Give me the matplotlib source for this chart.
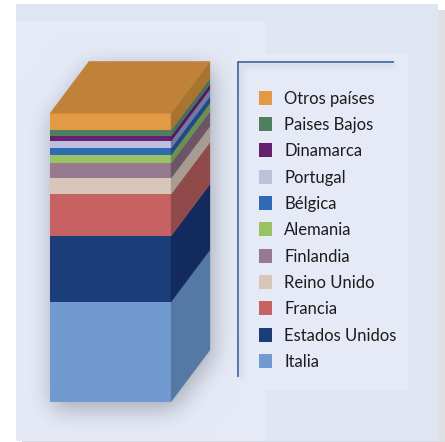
import numpy as np
import matplotlib
matplotlib.use("Agg")
import matplotlib.pyplot as plt
from matplotlib.patches import Rectangle, Polygon
from matplotlib.colors import to_rgb

countries = ["Italia", "Estados Unidos", "Francia", "Reino Unido", "Finlandia", "Alemania",
             "Bélgica", "Portugal", "Dinamarca", "Paises Bajos", "Otros países"]
shares = [34.6, 22.8, 14.5, 5.5, 5.2, 2.8, 2.4, 2.4, 1.7, 2.1, 5.9]
front_colors = ["#719bd0", "#1b3e78", "#c86262", "#d8c6b8", "#987a90", "#9ac264",
                "#2e6bb4", "#bfbfde", "#65206e", "#4f7f5f", "#e29a44"]
side_colors = ["#5579a5", "#122a5e", "#914a4a", "#a79c92", "#6d5568", "#6a9150",
               "#1f4a85", "#7279a0", "#4f1a5c", "#47705a", "#a87430"]
top_color = "#c08238"
line_color = "#2f5a94"

W, H = 445, 442


def blur(a, r, passes=3):
    k = np.ones(2 * r + 1) / (2 * r + 1)
    for _ in range(passes):
        a = np.apply_along_axis(lambda v: np.convolve(v, k, mode="same"), 0, a)
        a = np.apply_along_axis(lambda v: np.convolve(v, k, mode="same"), 1, a)
    return a


# background layers (pixel space)
bg = np.ones((H, W, 3))
bg[10:442, 438:] = to_rgb("#dfe0e3")
bg[441:, 22:] = to_rgb("#d8dbe3")
bg[4:441, 16:438] = to_rgb("#dfe5f2")
bg[21:441, 16:266] = to_rgb("#e6eaf6")
bg[54:390, 231:408] = to_rgb("#e6eaf6")

# soft shadows
yy, xx = np.mgrid[0:H, 0:W]
cube = ((xx >= 50) & (xx <= 210) & (yy >= 62) & (yy <= 402)
        & (yy >= 113 - (xx - 50) * 52 / 39) & (yy <= 402 - (xx - 171) * 52 / 39))
off = np.roll(np.roll(cube, 6, 0), 2, 1)
sh = blur(np.where(off, 1.0, 0.0), 11)
sh[:, 238:] = 0
lsh = np.zeros((H, W))
lsh[66:378, 239:243] = 1
lsh[63:67, 239:394] = 1
lsh = blur(lsh, 2)
dark = np.clip(0.55 * sh + 0.16 * lsh, 0, 1)[..., None]
mask = np.zeros((H, W, 1), bool)
mask[4:441, 16:438] = True
bg = np.where(mask, bg * (1 - dark) + np.array(to_rgb("#6f7480")) * dark, bg)

fig = plt.figure(figsize=(W / 100, H / 100), dpi=100, facecolor="white")
ax = fig.add_axes([0, 0, 1, 1])
ax.axis("off")
# one percent share = 2.89 px; baseline at pixel row 402
scale = 2.89
ax.set_xlim(0, W)
ax.set_ylim(-(H - 402) / scale, 402 / scale)
ax.imshow(bg, extent=(0, W, -(H - 402) / scale, 402 / scale), aspect="auto", zorder=0,
          interpolation="nearest")

bar_left, bar_w = 50, 121
dx, dy = 39, 52 / scale
bottom = 0.0
for v, fc, sc in zip(shares, front_colors, side_colors):
    ax.bar(bar_left, v, width=bar_w, bottom=bottom, align="edge", color=fc, lw=0, zorder=3)
    r = bar_left + bar_w
    ax.add_patch(Polygon([(r, bottom), (r + dx, bottom + dy), (r + dx, bottom + v + dy), (r, bottom + v)],
                         closed=True, fc=sc, ec=sc, lw=0.2, zorder=3))
    bottom += v
ax.add_patch(Polygon([(bar_left, bottom), (bar_left + bar_w, bottom),
                      (bar_left + bar_w + dx, bottom + dy), (bar_left + dx, bottom + dy)],
                     closed=True, fc=top_color, ec=top_color, lw=0.2, zorder=3))


def py(p):
    return (402 - p) / scale


# frame lines
ax.plot([238, 238, 394], [py(377), py(62), py(62)], color=line_color, lw=1.1, zorder=4,
        solid_capstyle="butt", solid_joinstyle="miter")

# legend
label_y = [98, 124, 150, 177, 203, 229, 256, 282, 308, 335, 361]
for name, fc, y in zip(countries[::-1], front_colors[::-1], label_y):
    ax.add_patch(Rectangle((259, py(y + 7)), 13, 14 / scale, fc=fc, lw=0, zorder=4))
    ax.text(284, py(y + 1), name, fontsize=12, family="Lato", color="#1c1c1c",
            va="center", ha="left", zorder=5)

fig.savefig("out.png", dpi=100)
